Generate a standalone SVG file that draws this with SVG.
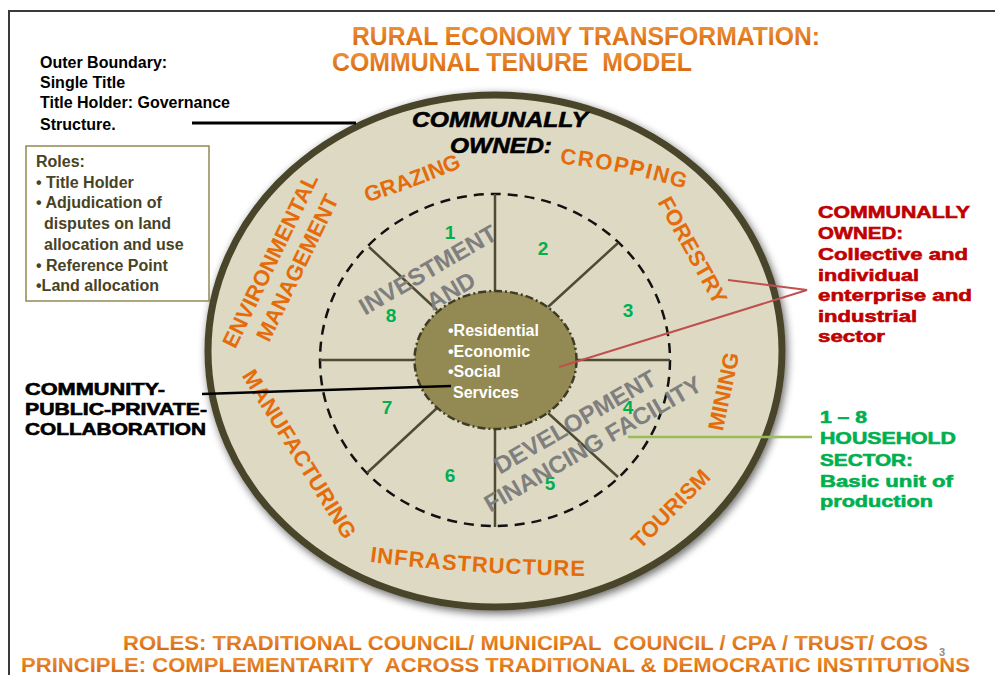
<svg xmlns="http://www.w3.org/2000/svg" width="995" height="675" viewBox="0 0 995 675">
  <defs>
    <linearGradient id="orangeGrad" x1="0" y1="0" x2="0" y2="1">
      <stop offset="0" stop-color="#f39a3c"/>
      <stop offset="1" stop-color="#d2610a"/>
    </linearGradient>
    <filter id="ringShadow" x="-10%" y="-10%" width="120%" height="120%">
      <feGaussianBlur in="SourceAlpha" stdDeviation="4"/>
      <feOffset dx="2" dy="3" result="blur"/>
      <feComponentTransfer><feFuncA type="linear" slope="0.6"/></feComponentTransfer>
      <feMerge><feMergeNode/><feMergeNode in="SourceGraphic"/></feMerge>
    </filter>
    <path id="arcGrazing" d="M355,206 Q405,192 474,162"/>
    <path id="arcCropping" d="M554,163 Q618,168 692,191"/>
    <path id="arcInfra" d="M364,561 Q470,575 592,576"/>
  </defs>
  <style>
    text { font-family: "Liberation Sans", Arial, sans-serif; font-weight: bold; }
    .title { fill: url(#orangeGrad); font-size: 25px; white-space: pre; }
    .footer { fill: url(#orangeGrad); font-size: 21px; white-space: pre; }
    .side { fill: #000; font-size: 16px; }
    .roles { fill: #474326; font-size: 16px; }
    .heavy { font-size: 17px; stroke-width: 0.6; }
    .sector { fill: #e46c0a; font-size: 22px; }
    .num { fill: #00b050; font-size: 19px; text-anchor: middle; }
    .facility { fill: #7f7f7f; font-size: 24px; text-anchor: middle; }
    .hub-text { fill: #fff; font-size: 16px; }
    .spoke { stroke: #4f4a33; stroke-width: 2.5; fill: none; }
    .link { fill: none; stroke-linecap: butt; }
  </style>

  <!-- page frame -->
  <path d="M9,675 V11 H995" fill="none" stroke="#3a3a3a" stroke-width="2"/>

  <!-- heading -->
  <g id="title">
    <text class="title" x="352" y="45" textLength="468" lengthAdjust="spacingAndGlyphs">RURAL ECONOMY TRANSFORMATION:</text>
    <text class="title" x="332" y="71" textLength="360" lengthAdjust="spacingAndGlyphs">COMMUNAL TENURE  MODEL</text>
  </g>

  <!-- outer boundary ring -->
  <g id="outer-ring">
    <ellipse cx="495" cy="351" rx="287" ry="256" fill="#ddd9c3" stroke="#4a452a" stroke-width="7" filter="url(#ringShadow)"/>
    <text x="412" y="127" font-style="italic" font-size="22" fill="#000" stroke="#000" stroke-width="0.6" textLength="176" lengthAdjust="spacingAndGlyphs">COMMUNALLY</text>
    <text x="450" y="153" font-style="italic" font-size="22" fill="#000" stroke="#000" stroke-width="0.6" textLength="102" lengthAdjust="spacingAndGlyphs">OWNED:</text>
  </g>

  <!-- sector labels around the ring -->
  <g id="sectors">
    <text class="sector" font-size="25"><textPath href="#arcGrazing" startOffset="50%" text-anchor="middle">GRAZING</textPath></text>
    <text class="sector" letter-spacing="1.5"><textPath href="#arcCropping" startOffset="50%" text-anchor="middle">CROPPING</textPath></text>
    <text class="sector" letter-spacing="1"><textPath href="#arcInfra" startOffset="50%" text-anchor="middle">INFRASTRUCTURE</textPath></text>
    <text class="sector" text-anchor="middle" transform="translate(686,254) rotate(61)">FORESTRY</text>
    <text class="sector" font-size="21" text-anchor="middle" transform="translate(731,393) rotate(-78)">MINING</text>
    <text class="sector" text-anchor="middle" transform="translate(676,514) rotate(-45)">TOURISM</text>
    <text class="sector" text-anchor="middle" transform="translate(293,458) rotate(58)">MANUFACTURING</text>
    <text class="sector" font-size="17.5" text-anchor="middle" transform="translate(277,264) rotate(-64)">ENVIRONMENTAL</text>
    <text class="sector" font-size="17.5" text-anchor="middle" transform="translate(304,271) rotate(-64)">MANAGEMENT</text>
  </g>

  <!-- household sector wheel -->
  <g id="household-wheel">
    <ellipse cx="495" cy="360" rx="175" ry="166" fill="none" stroke="#111" stroke-width="2.5" stroke-dasharray="10 7"/>
    <line class="spoke" x1="495" y1="194" x2="495" y2="291"/>
    <line class="spoke" x1="495" y1="429" x2="495" y2="527"/>
    <line class="spoke" x1="320" y1="360" x2="414" y2="360"/>
    <line class="spoke" x1="577" y1="360" x2="670" y2="360"/>
    <line class="spoke" x1="548" y1="307" x2="618" y2="243"/>
    <line class="spoke" x1="437" y1="310" x2="369" y2="247"/>
    <line class="spoke" x1="437" y1="408" x2="367" y2="473"/>
    <line class="spoke" x1="548" y1="413" x2="618" y2="477"/>
    <text class="num" x="450" y="239">1</text>
    <text class="num" x="543" y="255">2</text>
    <text class="num" x="628" y="317">3</text>
    <text class="num" x="628" y="414">4</text>
    <text class="num" x="550" y="490">5</text>
    <text class="num" x="450" y="482">6</text>
    <text class="num" x="387" y="414">7</text>
    <text class="num" x="391" y="322">8</text>
  </g>

  <!-- investment and development financing facility -->
  <g id="financing-facility">
    <text class="facility" transform="translate(432,277) rotate(-30)">INVESTMENT</text>
    <text class="facility" transform="translate(455,298) rotate(-30)">AND</text>
    <text class="facility" transform="translate(579,429) rotate(-30)">DEVELOPMENT</text>
    <text class="facility" transform="translate(597,451) rotate(-30)">FINANCING FACILITY</text>
  </g>

  <!-- central hub -->
  <g id="hub">
    <ellipse cx="495.5" cy="360" rx="81" ry="69" fill="#938953" stroke="#3f3b26" stroke-width="2.5" stroke-dasharray="8 3 2 3"/>
    <text class="hub-text" x="448" y="336">•Residential</text>
    <text class="hub-text" x="448" y="357">•Economic</text>
    <text class="hub-text" x="448" y="377">•Social</text>
    <text class="hub-text" x="453" y="398">Services</text>
  </g>

  <!-- governance notes -->
  <g id="outer-boundary-note">
    <text class="side" x="40" y="68">Outer Boundary:</text>
    <text class="side" x="40" y="88">Single Title</text>
    <text class="side" x="40" y="108">Title Holder: Governance</text>
    <text class="side" x="40" y="130">Structure.</text>
  </g>

  <g id="roles-box">
    <rect x="26" y="146" width="183" height="155" fill="#fff" stroke="#938953" stroke-width="1.5"/>
    <text class="roles" x="36" y="167">Roles:</text>
    <text class="roles" x="36" y="188">• Title Holder</text>
    <text class="roles" x="36" y="208">• Adjudication of</text>
    <text class="roles" x="44" y="229">disputes on land</text>
    <text class="roles" x="44" y="250">allocation and use</text>
    <text class="roles" x="36" y="271">• Reference Point</text>
    <text class="roles" x="36" y="291">•Land allocation</text>
  </g>

  <g id="collaboration-note">
    <text class="heavy" x="25" y="395" fill="#000" stroke="#000" textLength="140" lengthAdjust="spacingAndGlyphs">COMMUNITY-</text>
    <text class="heavy" x="25" y="415" fill="#000" stroke="#000" textLength="182" lengthAdjust="spacingAndGlyphs">PUBLIC-PRIVATE-</text>
    <text class="heavy" x="25" y="435" fill="#000" stroke="#000" textLength="181" lengthAdjust="spacingAndGlyphs">COLLABORATION</text>
  </g>

  <g id="enterprise-note">
    <text class="heavy" x="818" y="218" fill="#c00000" stroke="#c00000" textLength="152" lengthAdjust="spacingAndGlyphs">COMMUNALLY</text>
    <text class="heavy" x="818" y="239" fill="#c00000" stroke="#c00000" textLength="85" lengthAdjust="spacingAndGlyphs">OWNED:</text>
    <text class="heavy" x="818" y="260" fill="#c00000" stroke="#c00000" textLength="150" lengthAdjust="spacingAndGlyphs">Collective and</text>
    <text class="heavy" x="818" y="281" fill="#c00000" stroke="#c00000" textLength="101" lengthAdjust="spacingAndGlyphs">individual</text>
    <text class="heavy" x="818" y="301" fill="#c00000" stroke="#c00000" textLength="154" lengthAdjust="spacingAndGlyphs">enterprise and</text>
    <text class="heavy" x="818" y="322" fill="#c00000" stroke="#c00000" textLength="99" lengthAdjust="spacingAndGlyphs">industrial</text>
    <text class="heavy" x="818" y="342" fill="#c00000" stroke="#c00000" textLength="67" lengthAdjust="spacingAndGlyphs">sector</text>
  </g>

  <g id="household-note">
    <text class="heavy" x="820" y="423" fill="#00b050" stroke="#00b050" textLength="47" lengthAdjust="spacingAndGlyphs">1 – 8</text>
    <text class="heavy" x="820" y="444" fill="#00b050" stroke="#00b050" textLength="136" lengthAdjust="spacingAndGlyphs">HOUSEHOLD</text>
    <text class="heavy" x="820" y="466" fill="#00b050" stroke="#00b050" textLength="93" lengthAdjust="spacingAndGlyphs">SECTOR:</text>
    <text class="heavy" x="820" y="487" fill="#00b050" stroke="#00b050" textLength="133" lengthAdjust="spacingAndGlyphs">Basic unit of</text>
    <text class="heavy" x="820" y="507" fill="#00b050" stroke="#00b050" textLength="113" lengthAdjust="spacingAndGlyphs">production</text>
  </g>

  <!-- callout connectors -->
  <g id="connectors">
    <line class="link" x1="192" y1="123" x2="356" y2="123" stroke="#000" stroke-width="3"/>
    <line class="link" x1="202" y1="394" x2="451" y2="386" stroke="#000" stroke-width="2.5"/>
    <polyline class="link" points="559,367 807,290 728,280" stroke="#c0504d" stroke-width="2"/>
    <line class="link" x1="628" y1="437" x2="812" y2="437" stroke="#9bbb59" stroke-width="2.5"/>
  </g>

  <!-- footer -->
  <g id="footer">
    <text class="footer" x="123" y="650" textLength="805" lengthAdjust="spacingAndGlyphs">ROLES: TRADITIONAL COUNCIL/ MUNICIPAL  COUNCIL / CPA / TRUST/ COS</text>
    <text x="939" y="656" font-size="11" font-weight="normal" fill="#8c8c8c">3</text>
    <text class="footer" x="21" y="672" textLength="949" lengthAdjust="spacingAndGlyphs">PRINCIPLE: COMPLEMENTARITY  ACROSS TRADITIONAL &amp; DEMOCRATIC INSTITUTIONS</text>
  </g>
</svg>
